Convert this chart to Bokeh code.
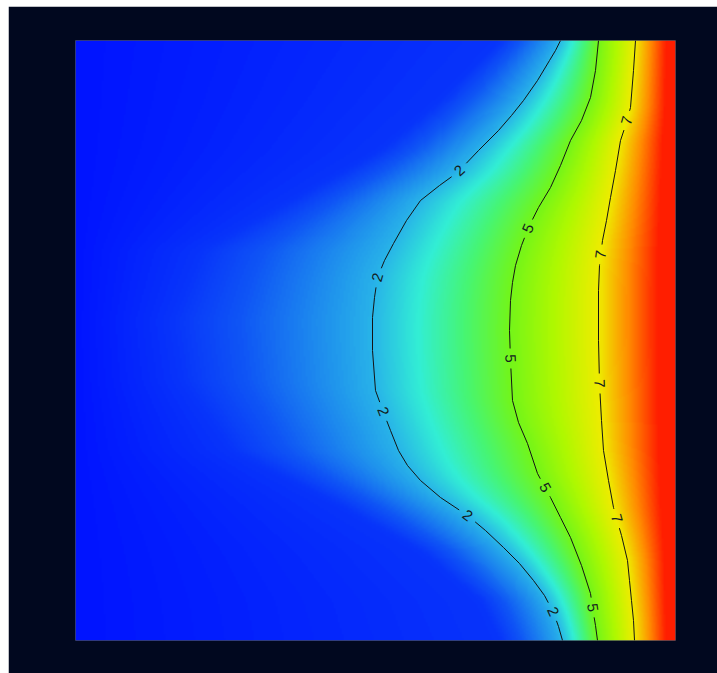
import numpy as np
from bokeh.plotting import figure
from bokeh.models import Range1d, LinearColorMapper, Spacer
from bokeh.layouts import row, column
from bokeh.core.properties import value
from bokeh.embed import file_html
from bokeh.resources import INLINE

# ---- data (plot domain 0..600 in x and y) ----
levels = ["2", "5", "7"]
level_values = [2.0, 5.0, 7.0]

c2_y = [600, 590, 580, 560, 540, 525, 510, 490, 468, 455, 440, 420, 397, 380, 363, 343, 323, 290,
        250, 228, 210, 190, 175, 160, 143, 125, 110, 93, 77, 60, 45, 28, 14, 0]
c2_x = [485, 480, 474, 462, 448, 436, 423, 403, 382, 364, 345, 331, 318, 309, 302, 299, 297, 297,
        300, 308, 315, 323, 332, 345, 365, 392, 410, 428, 444, 458, 469, 478, 483, 487]
c5_y = [600, 570, 543, 520, 500, 475, 453, 433, 413, 395, 375, 358, 340, 310, 280, 240, 218, 197,
        167, 143, 123, 103, 75, 47, 33, 15, 0]
c5_x = [523, 520, 515, 506, 495, 485, 475, 463, 453, 446, 440, 437, 435, 434, 435, 437, 443, 452,
        462, 475, 485, 495, 506, 515, 517, 520, 522]
c7_y = [600, 570, 533, 515, 500, 470, 443, 420, 400, 375, 350, 300, 257, 220, 190, 160, 133, 105,
        80, 60, 40, 20, 0]
c7_x = [560, 558, 555, 550, 545, 540, 535, 531, 527, 524, 523, 523, 524, 526, 528, 533, 538, 546,
        552, 554, 556, 558, 559]

# where the field leaves the deep blue (value 0.5)
b_y = [600, 540, 490, 440, 390, 320, 260, 190, 140, 90, 40, 0]
b_x = [425, 365, 305, 215, 125, 95, 105, 155, 255, 345, 405, 425]

left_value = 0.0
blue_value = 0.5
right_value = 9.6

label_y2 = [470, 363, 229, 125, 29]
label_y5 = [412, 282, 153, 33]
label_y7 = [520, 386, 257, 122]

# colour scale stops
stop_values = [0, 1, 2, 3, 4, 5, 6, 7, 8, 9]
stop_colors = [(0, 20, 255), (15, 85, 245), (40, 180, 232), (50, 238, 212), (70, 245, 115),
               (115, 245, 25), (175, 248, 0), (238, 236, 0), (255, 140, 0), (255, 30, 0)]

# ---- build palette ----
pv = np.linspace(0, 9, 256)
sc = np.array(stop_colors, dtype=float)
palette = []
for v in pv:
    r = np.interp(v, stop_values, sc[:, 0])
    g = np.interp(v, stop_values, sc[:, 1])
    b = np.interp(v, stop_values, sc[:, 2])
    palette.append("#%02x%02x%02x" % (int(round(r)), int(round(g)), int(round(b))))

# ---- field from the contour positions ----
N = 300
gx = (np.arange(N) + 0.5) * 600.0 / N
gy = (np.arange(N) + 0.5) * 600.0 / N
field = np.zeros((N, N))
for j, yy in enumerate(gy):
    bx = np.interp(yy, b_y[::-1], b_x[::-1])
    x2 = np.interp(yy, c2_y[::-1], c2_x[::-1])
    x5 = np.interp(yy, c5_y[::-1], c5_x[::-1])
    x7 = np.interp(yy, c7_y[::-1], c7_x[::-1])
    field[j] = np.interp(gx, [0, bx, x2, x5, x7, 600],
                         [left_value, blue_value, level_values[0], level_values[1], level_values[2], right_value])

def blur(a, k, axis):
    pad = k // 2
    padw = [(0, 0), (0, 0)]
    padw[axis] = (pad, pad)
    ap = np.pad(a, padw, mode="edge")
    out = np.zeros_like(a)
    for i in range(k):
        if axis == 0:
            out += ap[i:i + a.shape[0], :]
        else:
            out += ap[:, i:i + a.shape[1]]
    return out / k

field = blur(blur(field, 5, 1), 5, 0)

mapper = LinearColorMapper(palette=palette, low=0, high=9)

p = figure(width=709, height=667, output_backend="svg", toolbar_location=None,
           x_range=Range1d(0, 600), y_range=Range1d(0, 600),
           x_axis_location=None, y_axis_location=None,
           min_border_left=67, min_border_right=42, min_border_top=34, min_border_bottom=33)
p.background_fill_color = "#01081f"
p.border_fill_color = "#01081f"
p.outline_line_color = None
p.xgrid.visible = False
p.ygrid.visible = False

p.image(image=[field.astype(np.float32)], x=0, y=0, dw=600, dh=600, color_mapper=mapper)

def split_line(xs, ys, lab_ys, gap):
    xs = np.array(xs, float)
    ys = np.array(ys, float)
    s = np.concatenate([[0], np.cumsum(np.hypot(np.diff(xs), np.diff(ys)))])
    s_lab = sorted(np.interp(lab_ys, ys[::-1], s[::-1]))
    pieces_x, pieces_y, lx, ly, la = [], [], [], [], []
    start = 0.0
    cuts = [(sl - gap, sl + gap) for sl in s_lab] + [(s[-1], s[-1])]
    for a, b in cuts:
        if a > start:
            m = (s > start) & (s < a)
            px = [np.interp(start, s, xs)] + list(xs[m]) + [np.interp(a, s, xs)]
            py = [np.interp(start, s, ys)] + list(ys[m]) + [np.interp(a, s, ys)]
            pieces_x.append(px)
            pieces_y.append(py)
        start = b
    for sl in s_lab:
        x0, y0 = np.interp(sl - gap, s, xs), np.interp(sl - gap, s, ys)
        x1, y1 = np.interp(sl + gap, s, xs), np.interp(sl + gap, s, ys)
        ang = np.arctan2(y1 - y0, x1 - x0)
        while ang > np.pi / 2:
            ang -= np.pi
        while ang <= -np.pi / 2:
            ang += np.pi
        lx.append(float(np.interp(sl, s, xs)))
        ly.append(float(np.interp(sl, s, ys)))
        la.append(float(ang))
    return pieces_x, pieces_y, lx, ly, la

all_px, all_py, tx, ty, ta, tt = [], [], [], [], [], []
for lev, cx, cy, lys in [(levels[0], c2_x, c2_y, label_y2),
                         (levels[1], c5_x, c5_y, label_y5),
                         (levels[2], c7_x, c7_y, label_y7)]:
    pxs, pys, lx, ly, la = split_line(cx, cy, lys, 10)
    all_px += pxs
    all_py += pys
    tx += lx
    ty += ly
    ta += la
    tt += [lev] * len(lx)

p.multi_line(xs=all_px, ys=all_py, line_color="#141414", line_width=1)
p.text(x=tx, y=ty, text=tt, angle=ta, text_align="center", text_baseline="middle",
       text_font=value("Liberation Sans"), text_font_size="15px", text_color="#142020")

layout = row(Spacer(width=8, height=673), column(Spacer(width=709, height=6), p))
open("out.html", "w").write(file_html(layout, INLINE))
